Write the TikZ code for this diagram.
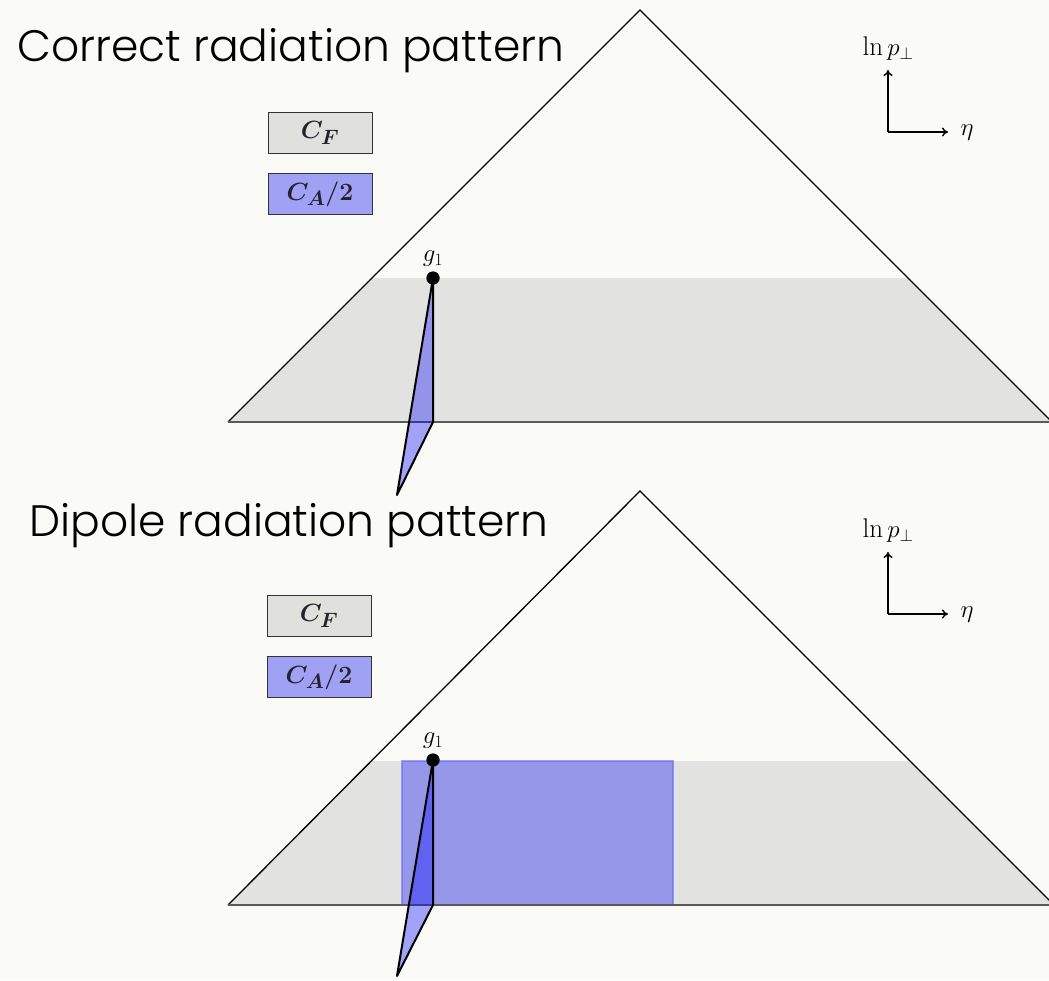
\documentclass[tikz,border=0pt]{standalone}
\usepackage{fontspec}
\newfontfamily\titlefont{Poppins}[UprightFont=* Light]
\usetikzlibrary{arrows.meta}
\definecolor{bg}{RGB}{250,250,247}
\definecolor{band}{RGB}{226,226,224}
\definecolor{legendgrey}{RGB}{224,224,221}
\definecolor{legendblue}{RGB}{160,160,245}
\definecolor{edgegrey}{RGB}{90,90,90}
\definecolor{legendtext}{RGB}{35,35,45}
\tikzset{
  titletext/.style={anchor=west, inner sep=0pt, font=\titlefont\fontsize{44}{52}\selectfont},
  legendbox/.style={draw=black!80, line width=0.8pt, minimum width=104pt, minimum height=41pt, inner sep=0pt, text=legendtext, font=\fontsize{30}{34}\selectfont\boldmath},
  mathlabel/.style={inner sep=1pt, font=\fontsize{27}{32}\selectfont},
  outline/.style={draw=black, line width=1.3pt},
  bottomedge/.style={draw=edgegrey, line width=1.6pt},
  bluewedge/.style={fill=blue, fill opacity=0.35, draw=black, line width=2pt, line join=round},
  axisarrow/.style={-{To[length=6pt,width=9pt]}, line width=1.4pt},
  emission/.style={circle, fill=black, inner sep=0pt, minimum size=13pt},
  dipolebox/.style={fill=blue, fill opacity=0.33, draw=blue!60, draw opacity=0.6, line width=1.2pt}
}
\begin{document}
\begin{tikzpicture}[x=1pt,y=-1pt]
\useasboundingbox (0,0) rectangle (1049,980);
\fill[bg] (0,0) rectangle (1049,980);
\clip (0,0) rectangle (1049,980);

% ---------- top panel ----------
\coordinate (apexT) at (640,10);
\coordinate (blT) at (228,422);
\coordinate (brT) at (1052,422);
\coordinate (bandlT) at (372,278);
\coordinate (bandrT) at (908,278);
\coordinate (footT) at (433,422);
\coordinate (tipT) at (397,495);
\coordinate (oT) at (888,132);
\coordinate (yT) at (888,70);
\coordinate (xT) at (948,132);

\fill[band] (bandlT) -- (bandrT) -- (brT) -- (blT) -- cycle;
\draw[outline] (blT) -- (apexT) -- (brT);
\draw[bottomedge] (blT) -- (brT);
\node[emission] (gT) at (433,278) {};
\draw[bluewedge] (gT.center) -- (footT) -- (tipT) -- cycle;
\node[emission] at (gT) {};
\node[mathlabel, anchor=south] (glT) at (433,268) {$g_1$};

\node[titletext] (titleT) at (17,51) {Correct radiation pattern};
\node[legendbox, fill=legendgrey] (cfT) at (320,133) {$C_F$};
\node[legendbox, fill=legendblue] (caT) at (320,194) {$C_A/2$};

\draw[axisarrow] (oT) -- (yT);
\draw[axisarrow] (oT) -- (xT);
\node[mathlabel] (lnT) at (888,49) {$\ln p_\perp$};
\node[mathlabel] (etaT) at (967,133) {$\eta$};

% ---------- bottom panel ----------
\coordinate (apexB) at (640,491);
\coordinate (blB) at (228,905);
\coordinate (brB) at (1054,905);
\coordinate (bandlB) at (370,761);
\coordinate (bandrB) at (910,761);
\coordinate (footB) at (433,905);
\coordinate (tipB) at (397,976);
\coordinate (oB) at (888,614);
\coordinate (yB) at (888,552);
\coordinate (xB) at (948,614);

\fill[band] (bandlB) -- (bandrB) -- (brB) -- (blB) -- cycle;
\draw[dipolebox] (402,761) rectangle (673,905);
\draw[outline] (blB) -- (apexB) -- (brB);
\draw[bottomedge] (blB) -- (brB);
\node[emission] (gB) at (433,760) {};
\draw[bluewedge] (gB.center) -- (footB) -- (tipB) -- cycle;
\node[emission] at (gB) {};
\node[mathlabel, anchor=south] (glB) at (433,750) {$g_1$};

\node[titletext] (titleB) at (29,526) {Dipole radiation pattern};
\node[legendbox, fill=legendgrey] (cfB) at (319,616) {$C_F$};
\node[legendbox, fill=legendblue] (caB) at (319,677) {$C_A/2$};

\draw[axisarrow] (oB) -- (yB);
\draw[axisarrow] (oB) -- (xB);
\node[mathlabel] (lnB) at (888,531) {$\ln p_\perp$};
\node[mathlabel] (etaB) at (967,615) {$\eta$};
\end{tikzpicture}
\end{document}
